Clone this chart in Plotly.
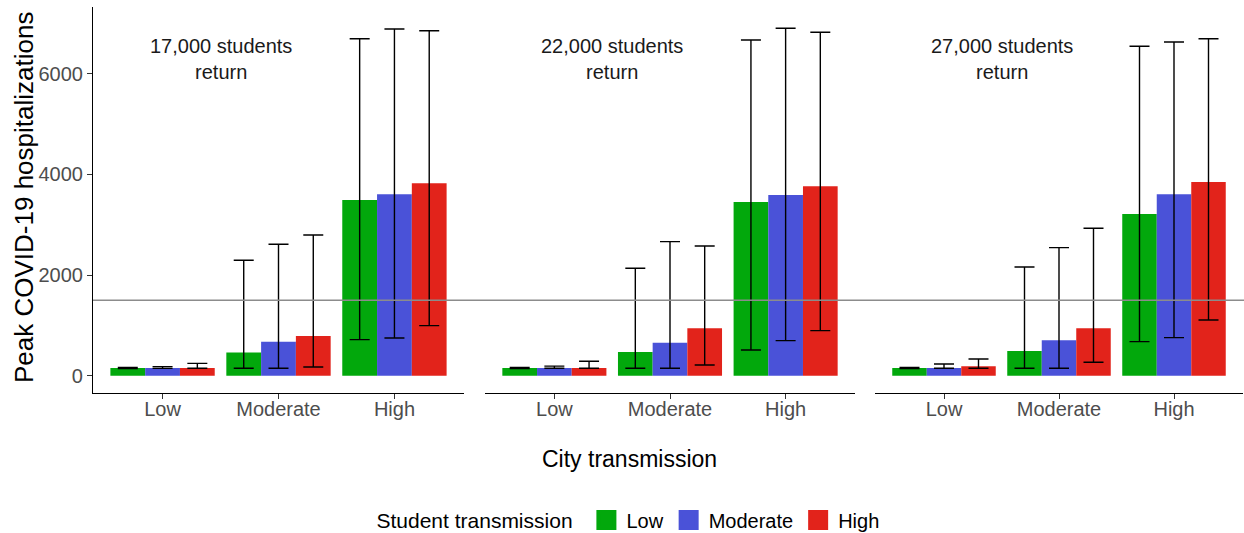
import plotly.graph_objects as go

# ---------------- data ----------------
panel_labels = ["17,000 students<br>return", "22,000 students<br>return", "27,000 students<br>return"]
city_levels = ["Low", "Moderate", "High"]
student_levels = ["Low", "Moderate", "High"]
student_colors = ["#02A80C", "#4A52D8", "#E2231B"]

# mean peak hospitalizations: [panel][city level]
low_mean = [[150, 458, 3493], [150, 471, 3453], [150, 491, 3215]]
mod_mean = [[150, 676, 3606], [150, 656, 3592], [150, 703, 3606]]
high_mean = [[150, 789, 3825], [150, 942, 3765], [187, 942, 3851]]

low_upper = [[165, 2294, 6700], [165, 2135, 6674], [165, 2161, 6549]]
mod_upper = [[180, 2612, 6893], [190, 2664, 6906], [233, 2545, 6634]]
high_upper = [[245, 2797, 6859], [286, 2578, 6827], [332, 2930, 6700]]

low_lower = [[140, 147, 716], [140, 147, 511], [140, 147, 676]]
mod_lower = [[145, 147, 750], [147, 147, 696], [147, 147, 756]]
high_lower = [[147, 173, 994], [147, 213, 895], [147, 266, 1107]]

threshold = 1500
y_ticks = [0, 2000, 4000, 6000]

# ---------------- figure ----------------
W, H = 1244, 533
FONT = "Liberation Sans, Arial, Helvetica, sans-serif"
means = [low_mean, mod_mean, high_mean]
uppers = [low_upper, mod_upper, high_upper]
lowers = [low_lower, mod_lower, high_lower]

fig = go.Figure()
xaxes = ["x", "x2", "x3"]
for p in range(3):
    for s in range(3):
        m = means[s][p]
        up = [u - v for u, v in zip(uppers[s][p], m)]
        dn = [v - l for v, l in zip(m, lowers[s][p])]
        fig.add_trace(go.Bar(
            x=city_levels, y=m, xaxis=xaxes[p], yaxis="y",
            marker=dict(color=student_colors[s], line=dict(width=0)),
            error_y=dict(type="data", array=up, arrayminus=dn, color="black",
                         thickness=1.4, width=10),
            name=student_levels[s], legendgroup=student_levels[s],
            showlegend=False,
        ))

# legend entries (larger square keys)
for s in range(3):
    fig.add_trace(go.Scatter(
        x=[None], y=[None], mode="markers", xaxis="x", yaxis="y",
        marker=dict(symbol="square", size=22, color=student_colors[s],
                    line=dict(color=student_colors[s], width=4)),
        name=student_levels[s], legendgroup=student_levels[s], showlegend=True,
    ))

def px_x(v):
    return v / W

def px_y(v):
    return 1 - v / H

domains = [(px_x(93), px_x(464)), (px_x(485), px_x(855)), (px_x(875), px_x(1243))]
ydom = (px_y(393), px_y(7))

tickfont = dict(family=FONT, size=20, color="#4D4D4D")
axis_common = dict(
    type="category", range=[-0.6, 2.6], showline=True, linecolor="black", linewidth=1.2,
    ticks="outside", ticklen=5, tickcolor="#333333", tickwidth=1.2, automargin=False,
    showgrid=False, zeroline=False, tickfont=tickfont, fixedrange=True,
    categoryorder="array", categoryarray=city_levels, ticklabelstandoff=-7,
)

layout = dict(
    width=W, height=H, margin=dict(l=0, r=0, t=0, b=0, autoexpand=False),
    plot_bgcolor="white", paper_bgcolor="white",
    barmode="group", bargap=0.1, bargroupgap=0,
    font=dict(family=FONT, color="black"),
    yaxis=dict(domain=list(ydom), anchor="x", range=[-345, 7330], automargin=False,
               tickvals=y_ticks, ticktext=[str(t) for t in y_ticks],
               showline=True, linecolor="black", linewidth=1.2,
               ticks="outside", ticklen=5, tickcolor="#333333", tickwidth=1.2,
               showgrid=False, zeroline=False, tickfont=tickfont, fixedrange=True),
    legend=dict(orientation="h", x=0.506, xanchor="center", y=px_y(520), yanchor="middle",
                title=dict(text="Student transmission ", font=dict(size=21, color="black")),
                font=dict(size=20, color="black"), itemsizing="trace",
                traceorder="normal"),
)
for i, ax in enumerate(["xaxis", "xaxis2", "xaxis3"]):
    d = dict(axis_common)
    d["domain"] = list(domains[i])
    d["anchor"] = "y"
    layout[ax] = d
fig.update_layout(**layout)

# reference line
fig.add_shape(type="line", xref="paper", yref="y", x0=domains[0][0], x1=1.0,
              y0=threshold, y1=threshold, line=dict(color="#8C8C8C", width=1.6), layer="above")

# panel labels
for p in range(3):
    fig.add_annotation(text=panel_labels[p], xref=xaxes[p], yref="y", x=0.5, y=6290,
                       showarrow=False, font=dict(size=20, color="#1A1A1A"),
                       align="center")

# axis titles
fig.add_annotation(text="Peak COVID-19 hospitalizations", xref="paper", yref="paper",
                   x=px_x(24), y=px_y(198), textangle=-90, showarrow=False,
                   font=dict(size=26, color="black"), xanchor="center", yanchor="middle")
fig.add_annotation(text="City transmission", xref="paper", yref="paper",
                   x=px_x(629), y=px_y(459), showarrow=False,
                   font=dict(size=23, color="black"), xanchor="center", yanchor="middle")

fig.write_html(
    "out.html",
    config={"displayModeBar": False},
    post_script="document.body.style.margin='0';document.body.style.overflow='hidden';",
)
